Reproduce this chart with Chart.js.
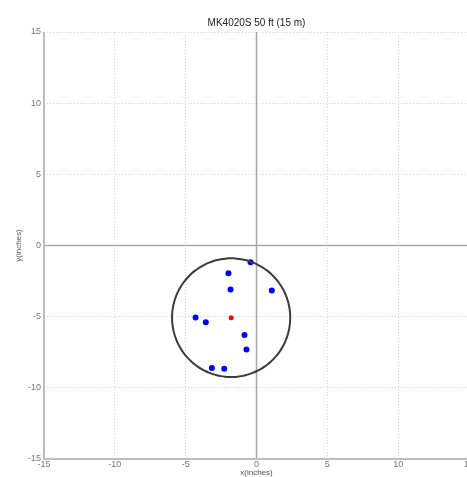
<!DOCTYPE html>
<html>
<head>
<meta charset="utf-8">
<script src="https://cdn.jsdelivr.net/npm/chart.js@4/dist/chart.umd.min.js"></script>
<style>
  html, body { margin: 0; padding: 0; background: #fff; }
  #wrap { width: 467px; height: 477px; overflow: hidden; position: relative; }
  canvas { display: block; }
</style>
</head>
<body>
<div id="wrap"><canvas id="c" width="490" height="490"></canvas></div>
<script>
const titleText = 'MK4020S 50 ft (15 m)';
const xLabel = 'x(inches)';
const yLabel = 'y(inches)';
const shotX = [-0.42, -1.98, -1.83, 1.08, -4.30, -3.58, -0.85, -0.71, -3.15, -2.28];
const shotY = [-1.18, -1.95, -3.10, -3.17, -5.05, -5.40, -6.29, -7.30, -8.61, -8.66];
const centerX = [-1.79];
const centerY = [-5.07];
const circleRadius = [4.17];
const axisMin = -15, axisMax = 15, axisStep = 5;

const shots = shotX.map((x, i) => ({ x: x, y: shotY[i] }));
const centerPts = centerX.map((x, i) => ({ x: x, y: centerY[i] }));
const circlePts = [];
for (let k = 0; k <= 90; k++) {
  const a = (k / 90) * 2 * Math.PI;
  circlePts.push({ x: centerX[0] + circleRadius[0] * Math.cos(a), y: centerY[0] + circleRadius[0] * Math.sin(a) });
}

const axesLines = {
  id: 'axesLines',
  beforeDatasetsDraw(chart) {
    const { ctx, chartArea: ca, scales: { x, y } } = chart;
    ctx.save();
    ctx.setLineDash([]);
    ctx.strokeStyle = '#a8a8a8';
    ctx.lineWidth = 1.5;
    const x0 = x.getPixelForValue(0), y0 = y.getPixelForValue(0);
    ctx.beginPath();
    ctx.moveTo(x0, ca.top); ctx.lineTo(x0, ca.bottom);
    ctx.moveTo(ca.left, y0); ctx.lineTo(ca.right, y0);
    ctx.stroke();
    ctx.strokeStyle = '#bdbdbd';
    ctx.lineWidth = 2;
    const xl = x.getPixelForValue(axisMin), yb = y.getPixelForValue(axisMin);
    ctx.beginPath();
    ctx.moveTo(xl, ca.top); ctx.lineTo(xl, yb); ctx.lineTo(ca.right, yb);
    ctx.stroke();
    ctx.restore();
  }
};

const gridColor = (c) => (c.tick && c.tick.value === 0) ? 'rgba(0,0,0,0)' : '#d6d6d6';

new Chart(document.getElementById('c'), {
  type: 'scatter',
  data: {
    datasets: [
      { type: 'line', data: circlePts, borderColor: '#3c3c3c', borderWidth: 2, pointRadius: 0, fill: false, tension: 0.2, borderJoinStyle: 'round' },
      { data: shots, backgroundColor: '#0000ff', borderColor: '#0000ff', pointRadius: 3, borderWidth: 0 },
      { data: centerPts, backgroundColor: '#ff0000', borderColor: '#ff0000', pointRadius: 2.5, borderWidth: 0 }
    ]
  },
  plugins: [axesLines],
  options: {
    responsive: false,
    animation: false,
    events: [],
    layout: { padding: { left: 0, right: 21, top: 0, bottom: 0 } },
    plugins: {
      legend: { display: false },
      tooltip: { enabled: false },
      title: {
        display: true, text: titleText, fullSize: false,
        color: '#222', font: { family: 'Liberation Sans', size: 10, weight: 'normal', lineHeight: 1.2 },
        padding: { top: 17, bottom: 3 }
      }
    },
    scales: {
      x: {
        type: 'linear', min: axisMin, max: axisMax,
        afterFit(s) { s.height = 31; },
        ticks: { stepSize: axisStep, color: '#777', font: { family: 'Liberation Sans', size: 9 }, padding: 0, maxRotation: 0 },
        grid: { color: gridColor, lineWidth: 1, drawTicks: false },
        border: { display: false, dash: [1, 2] },
        title: { display: true, text: xLabel, color: '#555', font: { family: 'Liberation Sans', size: 8 }, padding: { top: 0, bottom: 12 } }
      },
      y: {
        type: 'linear', min: axisMin, max: axisMax,
        afterFit(s) { s.width = 44; },
        ticks: { stepSize: axisStep, color: '#777', font: { family: 'Liberation Sans', size: 9 }, padding: 3 },
        grid: { color: gridColor, lineWidth: 1, drawTicks: false },
        border: { display: false, dash: [1, 2] },
        title: { display: true, text: yLabel, color: '#555', font: { family: 'Liberation Sans', size: 8 }, padding: { top: 14, bottom: 0 } }
      }
    }
  }
});
</script>
</body>
</html>
